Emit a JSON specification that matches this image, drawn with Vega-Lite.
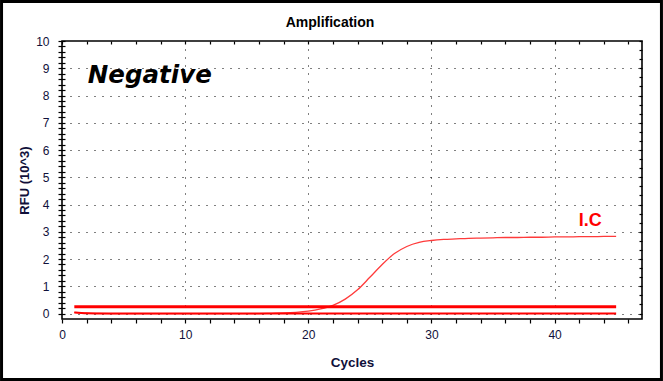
{
  "$schema": "https://vega.github.io/schema/vega-lite/v6.json",
  "width": 580,
  "height": 278,
  "autosize": {"type": "none"},
  "padding": {"left": 62, "top": 41, "right": 21, "bottom": 62},
  "background": "white",
  "config": {
    "view": {"stroke": "#000", "strokeWidth": 1.6},
    "font": "Liberation Sans"
  },
  "title": {
    "text": "Amplification",
    "fontSize": 14,
    "fontWeight": "bold",
    "font": "Liberation Sans",
    "color": "#000",
    "anchor": "middle",
    "frame": "group",
    "dx": -22,
    "baseline": "alphabetic",
    "offset": -41
  },
  "datasets": {
    "curves": [
      {"series": "IC", "cycle": 1, "rfu": 0.04},
      {"series": "IC", "cycle": 2, "rfu": 0.015},
      {"series": "IC", "cycle": 3, "rfu": 0.005},
      {"series": "IC", "cycle": 4, "rfu": 0.0},
      {"series": "IC", "cycle": 5, "rfu": 0.0},
      {"series": "IC", "cycle": 6, "rfu": 0.0},
      {"series": "IC", "cycle": 7, "rfu": 0.0},
      {"series": "IC", "cycle": 8, "rfu": 0.0},
      {"series": "IC", "cycle": 9, "rfu": 0.0},
      {"series": "IC", "cycle": 10, "rfu": 0.0},
      {"series": "IC", "cycle": 11, "rfu": 0.0},
      {"series": "IC", "cycle": 12, "rfu": 0.0},
      {"series": "IC", "cycle": 13, "rfu": 0.0},
      {"series": "IC", "cycle": 14, "rfu": 0.0},
      {"series": "IC", "cycle": 15, "rfu": 0.0},
      {"series": "IC", "cycle": 16, "rfu": 0.0},
      {"series": "IC", "cycle": 17, "rfu": 0.01},
      {"series": "IC", "cycle": 18, "rfu": 0.02},
      {"series": "IC", "cycle": 19, "rfu": 0.045},
      {"series": "IC", "cycle": 20, "rfu": 0.09},
      {"series": "IC", "cycle": 21, "rfu": 0.17},
      {"series": "IC", "cycle": 22, "rfu": 0.3},
      {"series": "IC", "cycle": 23, "rfu": 0.53},
      {"series": "IC", "cycle": 24, "rfu": 0.87},
      {"series": "IC", "cycle": 25, "rfu": 1.33},
      {"series": "IC", "cycle": 26, "rfu": 1.8},
      {"series": "IC", "cycle": 27, "rfu": 2.2},
      {"series": "IC", "cycle": 28, "rfu": 2.46},
      {"series": "IC", "cycle": 29, "rfu": 2.61},
      {"series": "IC", "cycle": 30, "rfu": 2.68},
      {"series": "IC", "cycle": 31, "rfu": 2.72},
      {"series": "IC", "cycle": 32, "rfu": 2.74},
      {"series": "IC", "cycle": 33, "rfu": 2.76},
      {"series": "IC", "cycle": 34, "rfu": 2.77},
      {"series": "IC", "cycle": 35, "rfu": 2.78},
      {"series": "IC", "cycle": 36, "rfu": 2.79},
      {"series": "IC", "cycle": 37, "rfu": 2.79},
      {"series": "IC", "cycle": 38, "rfu": 2.8},
      {"series": "IC", "cycle": 39, "rfu": 2.8},
      {"series": "IC", "cycle": 40, "rfu": 2.81},
      {"series": "IC", "cycle": 41, "rfu": 2.81},
      {"series": "IC", "cycle": 42, "rfu": 2.82},
      {"series": "IC", "cycle": 43, "rfu": 2.82},
      {"series": "IC", "cycle": 44, "rfu": 2.83},
      {"series": "IC", "cycle": 45, "rfu": 2.83},
      {"series": "Target", "cycle": 1, "rfu": 0.04},
      {"series": "Target", "cycle": 2, "rfu": 0.012},
      {"series": "Target", "cycle": 3, "rfu": 0.004},
      {"series": "Target", "cycle": 4, "rfu": 0.0},
      {"series": "Target", "cycle": 5, "rfu": 0.0},
      {"series": "Target", "cycle": 6, "rfu": 0.0},
      {"series": "Target", "cycle": 7, "rfu": 0.0},
      {"series": "Target", "cycle": 8, "rfu": 0.0},
      {"series": "Target", "cycle": 9, "rfu": 0.0},
      {"series": "Target", "cycle": 10, "rfu": 0.0},
      {"series": "Target", "cycle": 11, "rfu": 0.0},
      {"series": "Target", "cycle": 12, "rfu": 0.0},
      {"series": "Target", "cycle": 13, "rfu": 0.0},
      {"series": "Target", "cycle": 14, "rfu": 0.0},
      {"series": "Target", "cycle": 15, "rfu": 0.0},
      {"series": "Target", "cycle": 16, "rfu": 0.0},
      {"series": "Target", "cycle": 17, "rfu": 0.0},
      {"series": "Target", "cycle": 18, "rfu": 0.0},
      {"series": "Target", "cycle": 19, "rfu": 0.0},
      {"series": "Target", "cycle": 20, "rfu": 0.0},
      {"series": "Target", "cycle": 21, "rfu": 0.0},
      {"series": "Target", "cycle": 22, "rfu": 0.0},
      {"series": "Target", "cycle": 23, "rfu": 0.0},
      {"series": "Target", "cycle": 24, "rfu": 0.0},
      {"series": "Target", "cycle": 25, "rfu": 0.0},
      {"series": "Target", "cycle": 26, "rfu": 0.0},
      {"series": "Target", "cycle": 27, "rfu": 0.0},
      {"series": "Target", "cycle": 28, "rfu": 0.0},
      {"series": "Target", "cycle": 29, "rfu": 0.0},
      {"series": "Target", "cycle": 30, "rfu": 0.0},
      {"series": "Target", "cycle": 31, "rfu": 0.0},
      {"series": "Target", "cycle": 32, "rfu": 0.0},
      {"series": "Target", "cycle": 33, "rfu": 0.0},
      {"series": "Target", "cycle": 34, "rfu": 0.0},
      {"series": "Target", "cycle": 35, "rfu": 0.0},
      {"series": "Target", "cycle": 36, "rfu": 0.0},
      {"series": "Target", "cycle": 37, "rfu": 0.0},
      {"series": "Target", "cycle": 38, "rfu": 0.0},
      {"series": "Target", "cycle": 39, "rfu": 0.0},
      {"series": "Target", "cycle": 40, "rfu": 0.0},
      {"series": "Target", "cycle": 41, "rfu": 0.0},
      {"series": "Target", "cycle": 42, "rfu": 0.0},
      {"series": "Target", "cycle": 43, "rfu": 0.0},
      {"series": "Target", "cycle": 44, "rfu": 0.0},
      {"series": "Target", "cycle": 45, "rfu": 0.0}
    ],
    "threshold": [
      {"series": "Threshold", "cycle": 1, "rfu": 0.25},
      {"series": "Threshold", "cycle": 45, "rfu": 0.25}
    ],
    "negLabel": [{"cycle": 2.1, "rfu": 8.45, "text": "Negative"}],
    "icLabel": [{"cycle": 42.9, "rfu": 3.2, "text": "I.C"}],
    "frame": [{"id": "frame"}]
  },
  "resolve": {"axis": {"x": "independent", "y": "independent"}},
  "layer": [
    {
      "data": {"name": "curves"},
      "mark": {"type": "line", "interpolate": "monotone"},
      "encoding": {
        "x": {
          "field": "cycle", "type": "quantitative",
          "scale": {"domain": [0, 47.1], "nice": false, "zero": false},
          "axis": {
            "orient": "bottom",
            "values": [0, 2, 4, 6, 8, 10, 12, 14, 16, 18, 20, 22, 24, 26, 28, 30, 32, 34, 36, 38, 40, 42, 44, 46],
            "labelExpr": "datum.value % 10 === 0 ? '' + datum.value : ''",
            "labelOverlap": false,
            "labelFlush": false,
            "labelFontSize": 12,
            "labelColor": "#10103a",
            "labelPadding": 6,
            "domain": false,
            "tickSize": 4,
            "tickWidth": 1.2,
            "tickColor": "#000",
            "grid": true,
            "gridColor": "#000",
            "gridDash": [1, 7],
            "gridWidth": 1,
            "gridOpacity": {"condition": {"test": "datum.value % 10 === 0 && datum.value > 0", "value": 1}, "value": 0},
            "title": "Cycles",
            "titleFontSize": 13.5,
            "titleFontWeight": "bold",
            "titleColor": "#10103a",
            "titlePadding": 15
          }
        },
        "y": {
          "field": "rfu", "type": "quantitative",
          "scale": {"domain": [-0.2, 10], "nice": false, "zero": false},
          "axis": {
            "orient": "left",
            "values": [0, 0.2, 0.4, 0.6, 0.8, 1, 1.2, 1.4, 1.6, 1.8, 2, 2.2, 2.4, 2.6, 2.8, 3, 3.2, 3.4, 3.6, 3.8, 4, 4.2, 4.4, 4.6, 4.8, 5, 5.2, 5.4, 5.6, 5.8, 6, 6.2, 6.4, 6.6, 6.8, 7, 7.2, 7.4, 7.6, 7.8, 8, 8.2, 8.4, 8.6, 8.8, 9, 9.2, 9.4, 9.6, 9.8, 10],
            "offset": -3,
            "tickSize": 7,
            "tickWidth": 1.2,
            "tickColor": "#000",
            "domain": false,
            "labelExpr": "datum.value % 1 === 0 ? '' + datum.value : ''",
            "labelOverlap": false,
            "labelFlush": false,
            "labelPadding": 9,
            "labelFontSize": 12,
            "labelColor": "#10103a",
            "grid": true,
            "gridColor": "#000",
            "gridDash": [1, 7],
            "gridWidth": 1,
            "gridOpacity": {"condition": {"test": "datum.value % 1 === 0 && datum.value < 10", "value": 1}, "value": 0},
            "title": "RFU (10^3)",
            "titleFontSize": 13,
            "titleFontWeight": "bold",
            "titleColor": "#10103a",
            "titlePadding": 4
          }
        },
        "detail": {"field": "series", "type": "nominal"},
        "color": {"field": "series", "type": "nominal", "scale": {"domain": ["IC", "Target"], "range": ["#ff3a3a", "#ff0000"]}, "legend": null},
        "strokeWidth": {"field": "series", "type": "nominal", "scale": {"domain": ["IC", "Target"], "range": [1.3, 2]}, "legend": null}
      }
    },
    {
      "data": {"name": "threshold"},
      "mark": {"type": "line", "color": "#ff0000", "strokeWidth": 3},
      "encoding": {
        "x": {
          "field": "cycle", "type": "quantitative",
          "scale": {"domain": [0, 47.1], "nice": false, "zero": false},
          "axis": {
            "orient": "top",
            "values": [0, 2, 4, 6, 8, 10, 12, 14, 16, 18, 20, 22, 24, 26, 28, 30, 32, 34, 36, 38, 40, 42, 44, 46],
            "offset": -3,
            "tickSize": 3,
            "tickWidth": 1.2,
            "tickColor": "#000",
            "domain": false,
            "labels": false,
            "grid": false,
            "title": null
          }
        },
        "y": {
          "field": "rfu", "type": "quantitative",
          "scale": {"domain": [-0.2, 10], "nice": false, "zero": false},
          "axis": {
            "orient": "right",
            "values": [0, 0.333, 0.667, 1, 1.333, 1.667, 2, 2.333, 2.667, 3, 3.333, 3.667, 4, 4.333, 4.667, 5, 5.333, 5.667, 6, 6.333, 6.667, 7, 7.333, 7.667, 8, 8.333, 8.667, 9, 9.333, 9.667, 10],
            "offset": -3,
            "tickSize": 3,
            "tickWidth": 1.2,
            "tickColor": "#000",
            "domain": false,
            "labels": false,
            "grid": false,
            "title": null
          }
        }
      }
    },
    {
      "data": {"name": "negLabel"},
      "mark": {"type": "text", "font": "DejaVu Sans", "fontSize": 24.5, "fontWeight": "bold", "fontStyle": "italic", "color": "#000", "align": "left", "baseline": "alphabetic"},
      "encoding": {
        "x": {"field": "cycle", "type": "quantitative", "scale": {"domain": [0, 47.1], "nice": false, "zero": false}, "axis": null},
        "y": {"field": "rfu", "type": "quantitative", "scale": {"domain": [-0.2, 10], "nice": false, "zero": false}, "axis": null},
        "text": {"field": "text", "type": "nominal"}
      }
    },
    {
      "data": {"name": "icLabel"},
      "mark": {"type": "text", "font": "Liberation Sans", "fontSize": 18, "fontWeight": "bold", "color": "#ff0000", "align": "center", "baseline": "alphabetic"},
      "encoding": {
        "x": {"field": "cycle", "type": "quantitative", "scale": {"domain": [0, 47.1], "nice": false, "zero": false}, "axis": null},
        "y": {"field": "rfu", "type": "quantitative", "scale": {"domain": [-0.2, 10], "nice": false, "zero": false}, "axis": null},
        "text": {"field": "text", "type": "nominal"}
      }
    },
    {
      "data": {"name": "frame"},
      "mark": {"type": "rect", "filled": false, "stroke": "#000", "strokeWidth": 3, "clip": false},
      "encoding": {
        "x": {"datum": -4.91, "type": "quantitative", "scale": {"domain": [0, 47.1], "nice": false, "zero": false}, "axis": null},
        "x2": {"datum": 48.68},
        "y": {"datum": 11.45, "type": "quantitative", "scale": {"domain": [-0.2, 10], "nice": false, "zero": false}, "axis": null},
        "y2": {"datum": -2.42}
      }
    }
  ]
}
